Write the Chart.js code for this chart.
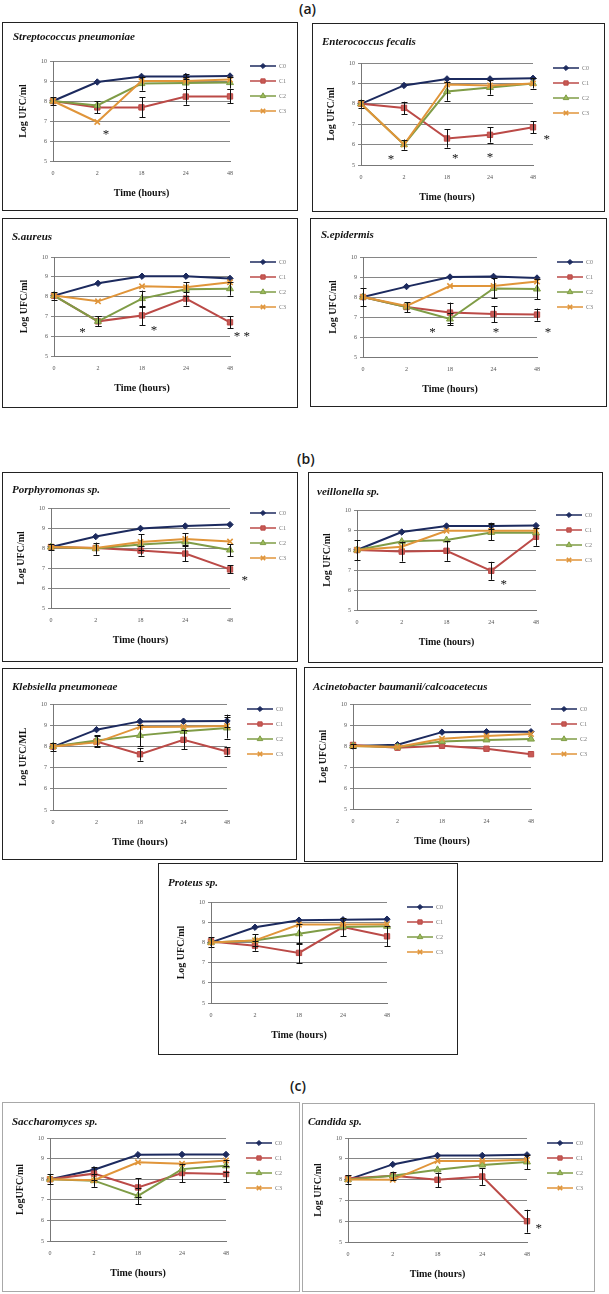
<!DOCTYPE html>
<html>
<head>
<meta charset="utf-8">
<script src="https://cdn.jsdelivr.net/npm/chart.js@4.4.1/dist/chart.umd.min.js"></script>
<style>
  body { margin: 0; background: #fff; width: 609px; height: 1294px; position: relative; overflow: hidden; }
  .sec { position: absolute; font-family: "Open Sans", "DejaVu Sans", sans-serif; font-size: 14px; font-weight: 600; line-height: 16px; color: #1a1a1a; }
  .panel { position: absolute; border: 1px solid #222; box-sizing: border-box; background: #fff; }
  .panel.light { border-color: #a8a8a8; }
  .panel .ttl { position: absolute; font-family: "Liberation Serif", serif; font-weight: bold; font-style: italic;
    font-size: 11px; line-height: 12px; white-space: nowrap; color: #111; }
  .panel canvas { position: absolute; left: 0; top: 0; }
</style>
</head>
<body>
<div class="sec" style="left:299px;top:1px">(a)</div>
<div class="sec" style="left:297px;top:451px">(b)</div>
<div class="sec" style="left:290px;top:1078px">(c)</div>

<script>
const times = ['0', '2', '18', '24', '48'];
const seriesNames = ['C0', 'C1', 'C2', 'C3'];
const yMin = 5, yMax = 10;

// values per series C0..C3, error half-widths, asterisks [x index, y value, text]
const strepVals = [
  [8.0, 8.95, 9.23, 9.23, 9.25],
  [8.0, 7.68, 7.68, 8.22, 8.23],
  [8.0, 7.78, 8.87, 8.9, 8.92],
  [8.0, 6.95, 9.0, 9.0, 9.07]
];
const strepErr = [[0.2, 0, 0, 0.12, 0], [0, 0.3, 0.5, 0.4, 0.35], [0, 0, 0.35, 0.3, 0.3], [0, 0, 0, 0, 0]];
const strepStars = [[1.2, 6.5, '*']];

const enteroVals = [
  [8.0, 8.9, 9.22, 9.22, 9.25],
  [8.0, 7.8, 6.3, 6.48, 6.85],
  [8.0, 6.0, 8.6, 8.8, 9.0],
  [8.0, 6.0, 8.95, 8.9, 9.0]
];
const enteroErr = [[0.2, 0, 0, 0, 0], [0, 0.3, 0.45, 0.38, 0.3], [0, 0.25, 0.45, 0.35, 0.25], [0, 0, 0, 0, 0]];
const enteroStars = [[0.7, 5.45, '*'], [2.19, 5.5, '*'], [3.0, 5.55, '*'], [4.32, 6.4, '*']];

const aureusVals = [
  [8.05, 8.67, 9.03, 9.03, 8.92],
  [8.05, 6.75, 7.05, 7.9, 6.7],
  [8.05, 6.75, 7.9, 8.37, 8.4],
  [8.05, 7.76, 8.52, 8.47, 8.72]
];
const aureusErr = [[0.2, 0, 0, 0, 0], [0, 0.25, 0.5, 0.35, 0.3], [0, 0.25, 0.4, 0.35, 0.35], [0, 0, 0, 0, 0]];
const aureusStars = [[0.65, 6.35, '*'], [2.27, 6.45, '*'], [4.27, 6.15, '* *']];

const epiVals = [
  [8.0, 8.52, 9.0, 9.03, 8.95],
  [8.0, 7.5, 7.22, 7.15, 7.12],
  [8.0, 7.5, 6.9, 8.43, 8.4],
  [8.0, 7.55, 8.55, 8.55, 8.77]
];
const epiErr = [[0.45, 0, 0, 0, 0], [0, 0.25, 0.5, 0.4, 0.3], [0, 0, 0.3, 0.5, 0.5], [0, 0, 0, 0, 0]];
const epiStars = [[1.6, 6.38, '*'], [3.06, 6.38, '*'], [4.25, 6.38, '*']];

const porphVals = [
  [8.05, 8.57, 8.98, 9.1, 9.17],
  [8.05, 8.0, 7.87, 7.72, 6.93],
  [8.05, 7.97, 8.18, 8.3, 7.9],
  [8.05, 8.0, 8.3, 8.45, 8.32]
];
const porphErr = [[0.15, 0, 0, 0, 0], [0, 0, 0.25, 0.38, 0.2], [0, 0.3, 0, 0, 0.3], [0, 0, 0.4, 0.3, 0]];
const porphStars = [[4.33, 6.53, '*']];

const veilVals = [
  [8.0, 8.9, 9.2, 9.2, 9.22],
  [8.0, 7.92, 7.96, 6.96, 8.66],
  [8.0, 8.42, 8.5, 8.88, 8.86],
  [8.0, 8.16, 8.96, 8.96, 8.96]
];
const veilErr = [[0.5, 0, 0, 0.15, 0], [0, 0.5, 0.5, 0.45, 0.45], [0, 0, 0, 0.4, 0], [0, 0, 0, 0, 0]];
const veilStars = [[3.28, 6.45, '*']];

const klebVals = [
  [7.98, 8.79, 9.18, 9.19, 9.2],
  [8.0, 8.23, 7.63, 8.31, 7.76],
  [8.0, 8.28, 8.52, 8.71, 8.87],
  [8.0, 8.19, 8.92, 8.93, 8.96]
];
const klebErr = [[0.2, 0, 0, 0, 0.3], [0, 0.25, 0.3, 0.45, 0.2], [0, 0.25, 0.5, 0, 0.5], [0, 0, 0, 0, 0]];
const klebStars = [];

const acinVals = [
  [8.0, 8.06, 8.66, 8.68, 8.68],
  [8.05, 7.92, 8.01, 7.87, 7.61],
  [8.0, 7.95, 8.21, 8.29, 8.33],
  [8.0, 7.95, 8.34, 8.48, 8.57]
];
const acinErr = [[0.1, 0, 0, 0, 0], [0, 0, 0, 0, 0], [0, 0, 0, 0, 0], [0, 0, 0, 0, 0]];
const acinStars = [];

const protVals = [
  [8.0, 8.75, 9.1, 9.12, 9.15],
  [8.05, 7.84, 7.48, 8.76, 8.3],
  [8.0, 8.09, 8.43, 8.76, 8.8],
  [8.0, 8.1, 8.88, 8.88, 8.9]
];
const protErr = [[0.25, 0, 0, 0, 0], [0, 0.25, 0.5, 0.45, 0.5], [0, 0, 0.5, 0, 0], [0, 0.3, 0, 0, 0]];
const protStars = [];

const saccVals = [
  [8.0, 8.46, 9.19, 9.2, 9.2],
  [8.0, 8.27, 7.6, 8.3, 8.25],
  [8.0, 7.93, 7.19, 8.49, 8.65],
  [8.0, 7.95, 8.82, 8.75, 8.91]
];
const saccErr = [[0.25, 0, 0, 0, 0], [0, 0.3, 0.45, 0.45, 0.4], [0, 0.3, 0.4, 0, 0.3], [0, 0, 0, 0, 0]];
const saccStars = [];

const candVals = [
  [8.0, 8.73, 9.16, 9.16, 9.19],
  [8.05, 8.18, 7.99, 8.15, 6.0],
  [8.0, 8.18, 8.47, 8.7, 8.85],
  [8.0, 7.99, 8.9, 8.9, 8.95]
];
const candErr = [[0.2, 0, 0, 0, 0], [0, 0.2, 0.35, 0.4, 0.55], [0, 0, 0, 0, 0.35], [0, 0, 0, 0, 0]];
const candStars = [[4.26, 5.8, '*']];

// panel boxes and plot areas, page pixels
const panels = [
  { title: 'Streptococcus pneumoniae', yTitle: 'Log UFC/ml', box: [2, 22, 296, 189], plot: [53, 61, 230, 161], tpos: [10, 7], vals: strepVals, errs: strepErr, stars: strepStars },
  { title: 'Enterococcus fecalis', yTitle: 'Log UFC/ml', box: [312, 23, 293, 189], plot: [361, 63, 533, 165], tpos: [9, 11], vals: enteroVals, errs: enteroErr, stars: enteroStars },
  { title: 'S.aureus', yTitle: 'Log UFC/ml', box: [2, 218, 296, 190], plot: [54, 257, 230, 356], tpos: [9, 11], vals: aureusVals, errs: aureusErr, stars: aureusStars },
  { title: 'S.epidermis', yTitle: 'Log UFC/ml', box: [310, 218, 297, 189], plot: [363, 257, 537, 357], tpos: [10, 9], vals: epiVals, errs: epiErr, stars: epiStars },
  { title: 'Porphyromonas sp.', yTitle: 'Log UFC/ml', box: [2, 472, 296, 190], plot: [51, 508, 230, 608], tpos: [9, 10], vals: porphVals, errs: porphErr, stars: porphStars },
  { title: 'veillonella sp.', yTitle: 'Log UFC/ml', box: [308, 472, 295, 191], plot: [357, 510, 536, 610], tpos: [8, 12], vals: veilVals, errs: veilErr, stars: veilStars },
  { title: 'Klebsiella pneumoneae', yTitle: 'Log UFC/ML', box: [2, 668, 295, 192], plot: [53, 704, 227, 810], tpos: [9, 11], vals: klebVals, errs: klebErr, stars: klebStars },
  { title: 'Acinetobacter baumanii/calcoacetecus', yTitle: 'Log UFC/ml', box: [304, 667, 299, 195], plot: [353, 704, 531, 809], tpos: [8, 12], vals: acinVals, errs: acinErr, stars: acinStars },
  { title: 'Proteus sp.', yTitle: 'Log UFC/ml', box: [158, 863, 300, 192], plot: [211, 902, 387, 1003], tpos: [9, 12], vals: protVals, errs: protErr, stars: protStars },
  { title: 'Saccharomyces sp.', yTitle: 'LogUFC/ml', box: [2, 1102, 298, 190], plot: [50, 1138, 226, 1241], tpos: [9, 12], vals: saccVals, errs: saccErr, stars: saccStars, light: true },
  { title: 'Candida sp.', yTitle: 'Log UFC/ml', box: [302, 1103, 293, 189], plot: [348, 1138, 527, 1242], tpos: [5, 11], vals: candVals, errs: candErr, stars: candStars, light: true }
];

const lineColors = ['#1c2a5e', '#bb4a47', '#7f9c46', '#e0953a'];
const fillColors = ['#1c2a5e', '#c85a55', '#9bbb59', '#e0953a'];
const pointStyles = ['rectRot', 'rect', 'triangle', 'crossRot'];
const pointRadii = [3.2, 3.8, 4, 3.8];
const serif = '"Liberation Serif", "Times New Roman", serif';

// error bars
const errorBars = {
  id: 'errorBars',
  afterDatasetsDraw(chart, args, opts) {
    const { ctx, scales: { x, y } } = chart;
    ctx.save();
    ctx.strokeStyle = '#111';
    ctx.lineWidth = 1;
    opts.errs.forEach((row, i) => {
      row.forEach((e, j) => {
        if (!e) return;
        const v = chart.data.datasets[i].data[j];
        const px = Math.round(x.getPixelForValue(j)) + 0.5;
        const y1 = y.getPixelForValue(v + e), y2 = y.getPixelForValue(v - e);
        ctx.beginPath();
        ctx.moveTo(px, y1); ctx.lineTo(px, y2);
        ctx.moveTo(px - 3, Math.round(y1) + 0.5); ctx.lineTo(px + 3, Math.round(y1) + 0.5);
        ctx.moveTo(px - 3, Math.round(y2) + 0.5); ctx.lineTo(px + 3, Math.round(y2) + 0.5);
        ctx.stroke();
      });
    });
    ctx.restore();
  }
};

// significance marks
const starMarks = {
  id: 'starMarks',
  afterDraw(chart, args, opts) {
    const { ctx, scales: { x, y } } = chart;
    ctx.save();
    ctx.fillStyle = '#111';
    ctx.font = '13px ' + serif;
    ctx.textAlign = 'center';
    ctx.textBaseline = 'top';
    opts.stars.forEach(([xi, yv, t]) => {
      ctx.fillText(t, x.getPixelForValue(xi), y.getPixelForValue(yv) - 3);
    });
    ctx.restore();
  }
};

// legend: line with small marker, label to the right
const sideLegend = {
  id: 'sideLegend',
  afterDraw(chart) {
    const { ctx, chartArea } = chart;
    const x0 = chartArea.right + 20, len = 26;
    ctx.save();
    chart.data.datasets.forEach((ds, i) => {
      const yy = chartArea.top + 5 + i * 15;
      ctx.strokeStyle = ds.borderColor;
      ctx.lineWidth = 1.5;
      ctx.beginPath();
      ctx.moveTo(x0, yy); ctx.lineTo(x0 + len, yy);
      ctx.stroke();
      ctx.fillStyle = ds.pointBackgroundColor;
      ctx.strokeStyle = ds.pointBorderColor;
      ctx.lineWidth = ds.pointBorderWidth;
      Chart.helpers.drawPoint(ctx, {
        pointStyle: ds.pointStyle, radius: ds.pointRadius * 0.8, borderWidth: ds.pointBorderWidth, rotation: 0
      }, x0 + len / 2, yy);
      ctx.fillStyle = '#777';
      ctx.font = '6px ' + serif;
      ctx.textAlign = 'left';
      ctx.textBaseline = 'middle';
      ctx.fillText(ds.label, x0 + len + 3, yy);
    });
    ctx.restore();
  }
};

function makePanel(p) {
  const div = document.createElement('div');
  div.className = 'panel' + (p.light ? ' light' : '');
  div.style.left = p.box[0] + 'px';
  div.style.top = p.box[1] + 'px';
  div.style.width = p.box[2] + 'px';
  div.style.height = p.box[3] + 'px';
  document.body.appendChild(div);

  const w = p.box[2] - 2, h = p.box[3] - 2;
  const ox = p.box[0] + 1, oy = p.box[1] + 1;
  const L = p.plot[0] - ox, T = p.plot[1] - oy, R = p.plot[2] - ox, B = p.plot[3] - oy;

  const canvas = document.createElement('canvas');
  canvas.width = w;
  canvas.height = h;
  div.appendChild(canvas);

  const ttl = document.createElement('div');
  ttl.className = 'ttl';
  ttl.style.left = p.tpos[0] + 'px';
  ttl.style.top = p.tpos[1] + 'px';
  ttl.textContent = p.title;
  div.appendChild(ttl);

  const titleFont = { family: serif, size: 10, weight: 'bold', lineHeight: 1.2 };

  new Chart(canvas, {
    type: 'line',
    data: {
      labels: times,
      datasets: p.vals.map((v, i) => ({
        label: seriesNames[i],
        data: v,
        borderColor: lineColors[i],
        borderWidth: 2,
        backgroundColor: fillColors[i],
        pointStyle: pointStyles[i],
        pointRadius: pointRadii[i],
        pointBackgroundColor: fillColors[i],
        pointBorderColor: lineColors[i],
        pointBorderWidth: i === 3 ? 1.6 : 1,
        tension: 0,
        fill: false,
        order: 3 - i
      }))
    },
    options: {
      responsive: false,
      animation: false,
      devicePixelRatio: 1,
      layout: { padding: { left: 0, top: T, right: w - R, bottom: 0 } },
      plugins: {
        legend: { display: false },
        tooltip: { enabled: false },
        errorBars: { errs: p.errs },
        starMarks: { stars: p.stars }
      },
      scales: {
        x: {
          offset: false,
          grid: { display: false, drawTicks: false },
          border: { display: true, color: '#777', width: 1 },
          ticks: { font: { family: serif, size: 6 }, color: '#555', padding: 9, maxRotation: 0, autoSkip: false },
          title: { display: true, text: 'Time (hours)', font: titleFont, color: '#111',
                   padding: { top: 0, bottom: h - B - 32 - 6 } },
          afterFit(s) { s.height = h - B; }
        },
        y: {
          min: yMin,
          max: yMax,
          grid: { color: '#868686', lineWidth: 1, drawTicks: true, tickLength: 3 },
          border: { display: true, color: '#777', width: 1 },
          ticks: { stepSize: 1, font: { family: serif, size: 6 }, color: '#555', padding: 3 },
          title: { display: true, text: p.yTitle, font: titleFont, color: '#111',
                   padding: { top: L - 30 - 6, bottom: 0 } },
          afterFit(s) { s.width = L; }
        }
      }
    },
    plugins: [errorBars, starMarks, sideLegend]
  });
}

panels.forEach(makePanel);
</script>
</body>
</html>
